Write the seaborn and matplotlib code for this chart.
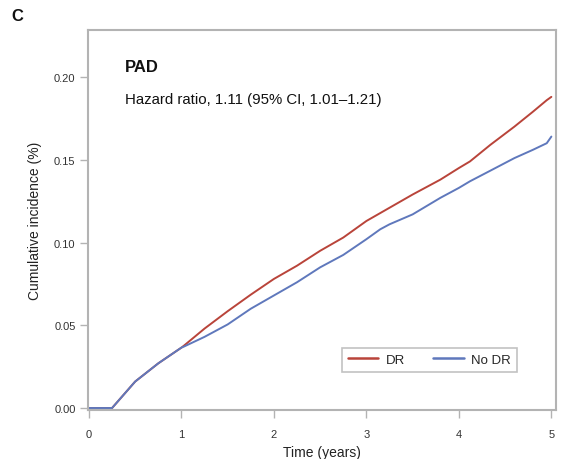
import pandas as pd
import matplotlib.pyplot as plt
import seaborn as sns

## Data ##
time_dr = [0, 0.25, 0.5, 0.75, 1.0, 1.03, 1.25, 1.5, 1.75, 2.0, 2.25, 2.5, 2.75,
           3.0, 3.25, 3.5, 3.8, 4.0, 4.12, 4.34, 4.6, 4.8, 4.95, 5.0]
inc_dr = [0, 0, 0.016, 0.027, 0.0365, 0.0378, 0.048, 0.0585, 0.0685, 0.078, 0.086,
          0.095, 0.103, 0.113, 0.121, 0.129, 0.138, 0.145, 0.149, 0.159, 0.170, 0.179,
          0.186, 0.188]

time_nodr = [0, 0.25, 0.5, 0.75, 1.0, 1.03, 1.25, 1.5, 1.75, 2.0, 2.25, 2.5, 2.75,
             3.0, 3.15, 3.25, 3.5, 3.8, 4.0, 4.12, 4.34, 4.6, 4.8, 4.95, 5.0]
inc_nodr = [0, 0, 0.016, 0.027, 0.0365, 0.0372, 0.043, 0.0505, 0.060, 0.068,
            0.076, 0.085, 0.0925, 0.102, 0.108, 0.111, 0.117, 0.127, 0.133, 0.137, 0.1434,
            0.151, 0.156, 0.160, 0.164]

x_ticks = [0, 1, 2, 3, 4, 5]
y_ticks = [0.00, 0.05, 0.10, 0.15, 0.20]

df = pd.concat([
    pd.DataFrame({'Time': time_dr, 'Incidence': inc_dr, 'Group': 'DR'}),
    pd.DataFrame({'Time': time_nodr, 'Incidence': inc_nodr, 'Group': 'No DR'}),
])

## Plot ##
sns.set_style('white')
plt.rcParams['font.family'] = ['Liberation Sans', 'DejaVu Sans']

fig = plt.figure(figsize=(5.62, 4.6), dpi=100)
ax = fig.add_axes([0.1566, 0.1065, 0.8327, 0.8261])

sns.lineplot(data=df, x='Time', y='Incidence', hue='Group', ax=ax,
             palette={'DR': '#B9443A', 'No DR': '#5F78BC'}, linewidth=1.4,
             estimator=None, sort=False)

ax.set_xlim(-0.01, 5.05)
ax.set_ylim(-0.0012, 0.2284)
ax.set_xticks(x_ticks)
ax.set_xticklabels([str(t) for t in x_ticks])
ax.set_yticks(y_ticks)
ax.set_yticklabels([f'{v:.2f}' for v in y_ticks])

for s in ax.spines.values():
    s.set_color('#b3b3b3')
    s.set_linewidth(1.5)
ax.tick_params(axis='both', direction='out', length=6, width=1, color='#b3b3b3',
               labelsize=8, labelcolor='#333333', bottom=True, left=True)
ax.tick_params(axis='x', pad=8)
ax.tick_params(axis='y', pad=3)

ax.set_xlabel('Time (years)', fontsize=10, color='#222222', labelpad=4)
ax.set_ylabel('Cumulative incidence (%)', fontsize=10, color='#222222', labelpad=9)

ax.text(0.079, 0.905, 'PAD', transform=ax.transAxes, fontsize=12, fontweight='bold',
        color='#111111', va='center')
ax.text(0.079, 0.818, 'Hazard ratio, 1.11 (95% CI, 1.01\u20131.21)', transform=ax.transAxes,
        fontsize=10.8, color='#111111', va='center')

fig.text(0.02, 0.965, 'C', fontsize=12, fontweight='bold', color='#111111', va='center')

leg = ax.legend(loc='lower right', bbox_to_anchor=(0.917, 0.10), ncol=2, frameon=True,
                fancybox=False, fontsize=9.5, handlelength=2.3, columnspacing=2.1,
                borderpad=0.45, handletextpad=0.6, borderaxespad=0)
leg.get_frame().set_edgecolor('#b3b3b3')
leg.get_frame().set_linewidth(1.2)
leg.set_title(None)
for line in leg.get_lines():
    line.set_linewidth(1.8)

plt.savefig('out.png', dpi=100)
